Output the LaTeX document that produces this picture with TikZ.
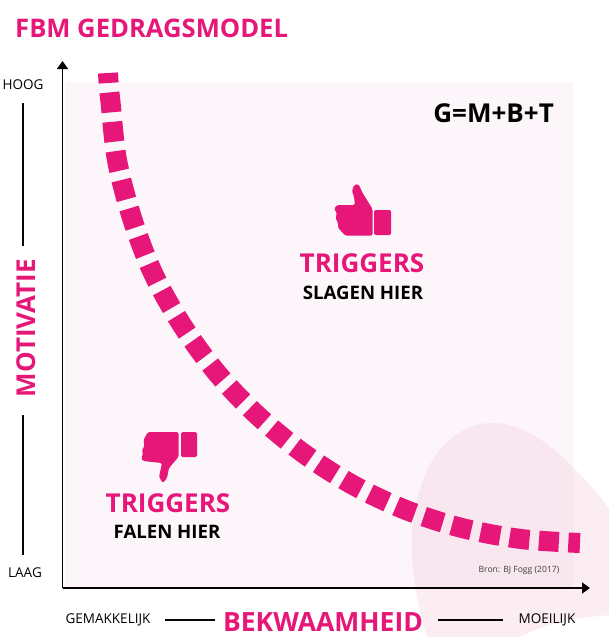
\documentclass[tikz,border=0pt]{standalone}
\usepackage{fontspec}
\setmainfont{Open Sans}
\usetikzlibrary{arrows.meta}
\definecolor{fbmpink}{HTML}{E7177A}
\definecolor{fieldbg}{HTML}{FCF5F9}
\definecolor{blobin}{HTML}{F9E7EF}
\definecolor{blobout}{HTML}{FCEDF3}
\definecolor{axisblack}{HTML}{0A0306}
\tikzset{
 pinkhead/.style={text=fbmpink,font=\fontsize{26}{30}\selectfont\bfseries,inner sep=0pt},
 blackhead/.style={text=black,font=\fontsize{18.6}{22}\selectfont\bfseries,inner sep=0pt},
 scale label/.style={text=black,font=\fontsize{13.5}{16}\selectfont,inner sep=0pt},
 axis arrow/.style={draw=axisblack,line width=1.7pt,-{Triangle[length=8pt,width=11pt]}},
 rule line/.style={draw=axisblack,line width=1.4pt},
 icon/.style={fill=fbmpink,draw=none,rounded corners=1.5pt},
}
\def\blobshape{(428,640) .. controls (412,590) and (405,530) .. (420,490)
 .. controls (430,450) and (460,423) .. (492,423)
 .. controls (535,423) and (575,465) .. (612,512) -- (612,615)
 .. controls (575,617) and (540,625) .. (515,640) -- cycle}
\begin{document}
\begin{tikzpicture}[x=1pt,y=-1pt]
\useasboundingbox (0,0) rectangle (609,637);
\begin{scope}
\clip (0,0) rectangle (609,637);
\fill[white] (0,0) rectangle (609,637);
\fill[blobout] \blobshape;
\fill[fieldbg] (65,82) rectangle (573,588);
\begin{scope}
\clip (65,82) rectangle (573,588);
\fill[blobin] \blobshape;
\end{scope}
\end{scope}
% curve
\draw[fbmpink,line width=20pt,dash pattern=on 20pt off 9.5pt,dash phase=10pt]
 plot[smooth,tension=0.55] coordinates {(108,73) (109,88) (110.5,102) (117,160) (132,218) (153,273) (182,325) (217,373) (257,415) (303,453) (353,485) (406,510) (462,528) (521,539) (580,543)};
% axes
\coordinate (origin) at (62.5,588);
\coordinate (ytop) at (62.5,61);
\coordinate (xend) at (590,588);
\draw[axis arrow] (origin) -- (ytop);
\draw[axis arrow] (origin) -- (xend);
% title
\node[pinkhead,anchor=west,font=\fontsize{25.6}{30}\selectfont\bfseries] (title) at (15,28) {FBM GEDRAGSMODEL};
\node[blackhead,anchor=east,font=\fontsize{26}{30}\selectfont\bfseries] (formula) at (554,113) {G=M+B+T};
% labels
\node[scale label] (hoog) at (23,85) {HOOG};
\node[scale label] (laag) at (25,573) {LAAG};
\node[pinkhead,rotate=90] (mot) at (26,328) {MOTIVATIE};
\coordinate (m1) at (23,103); \coordinate (m2) at (23,246);
\coordinate (m3) at (23,415); \coordinate (m4) at (23,555);
\draw[rule line] (m1) -- (m2);
\draw[rule line] (m3) -- (m4);
\node[scale label] (gem) at (108,620) {GEMAKKELIJK};
\node[pinkhead,font=\fontsize{26.5}{30}\selectfont\bfseries] (bek) at (323,622) {BEKWAAMHEID};
\node[scale label] (moe) at (547,620) {MOEILIJK};
\coordinate (b1) at (165,620); \coordinate (b2) at (215,620);
\coordinate (b3) at (438,620); \coordinate (b4) at (503,620);
\draw[rule line] (b1) -- (b2);
\draw[rule line] (b3) -- (b4);
\node[inner sep=0pt,text=black!75,font=\fontsize{8.6}{10}\selectfont] (bron) at (519,570) {Bron: BJ Fogg (2017)};
% thumbs up
\fill[icon] (374,210) rectangle (391,235);
\fill[icon] (372.5,235.5) -- (345,235.5) -- (342,232) -- (338,228) -- (338,223) -- (335.5,218) -- (337,213) -- (334,209)
 -- (337,205) -- (355,205) -- (354,197) -- (352,191) -- (354,185) -- (358,184) -- (360,187) -- (362,192) -- (367,200) -- (372.5,209) -- cycle;
% thumbs down
\fill[icon] (181,432) rectangle (197,457);
\fill[icon] (178.5,432) -- (148,432) -- (143.5,440) -- (144.5,446) -- (142,450) -- (143,455) -- (141,458) -- (143,461) -- (162,463) -- (159,477) -- (163,483) -- (167,478) -- (169,468) -- (178.5,457) -- cycle;
% text
\node[pinkhead] (t1) at (362,263) {TRIGGERS};
\node[blackhead] (s1) at (363,293) {SLAGEN HIER};
\node[pinkhead] (t2) at (168,503) {TRIGGERS};
\node[blackhead] (f2) at (167,532) {FALEN HIER};
\end{tikzpicture}
\end{document}
